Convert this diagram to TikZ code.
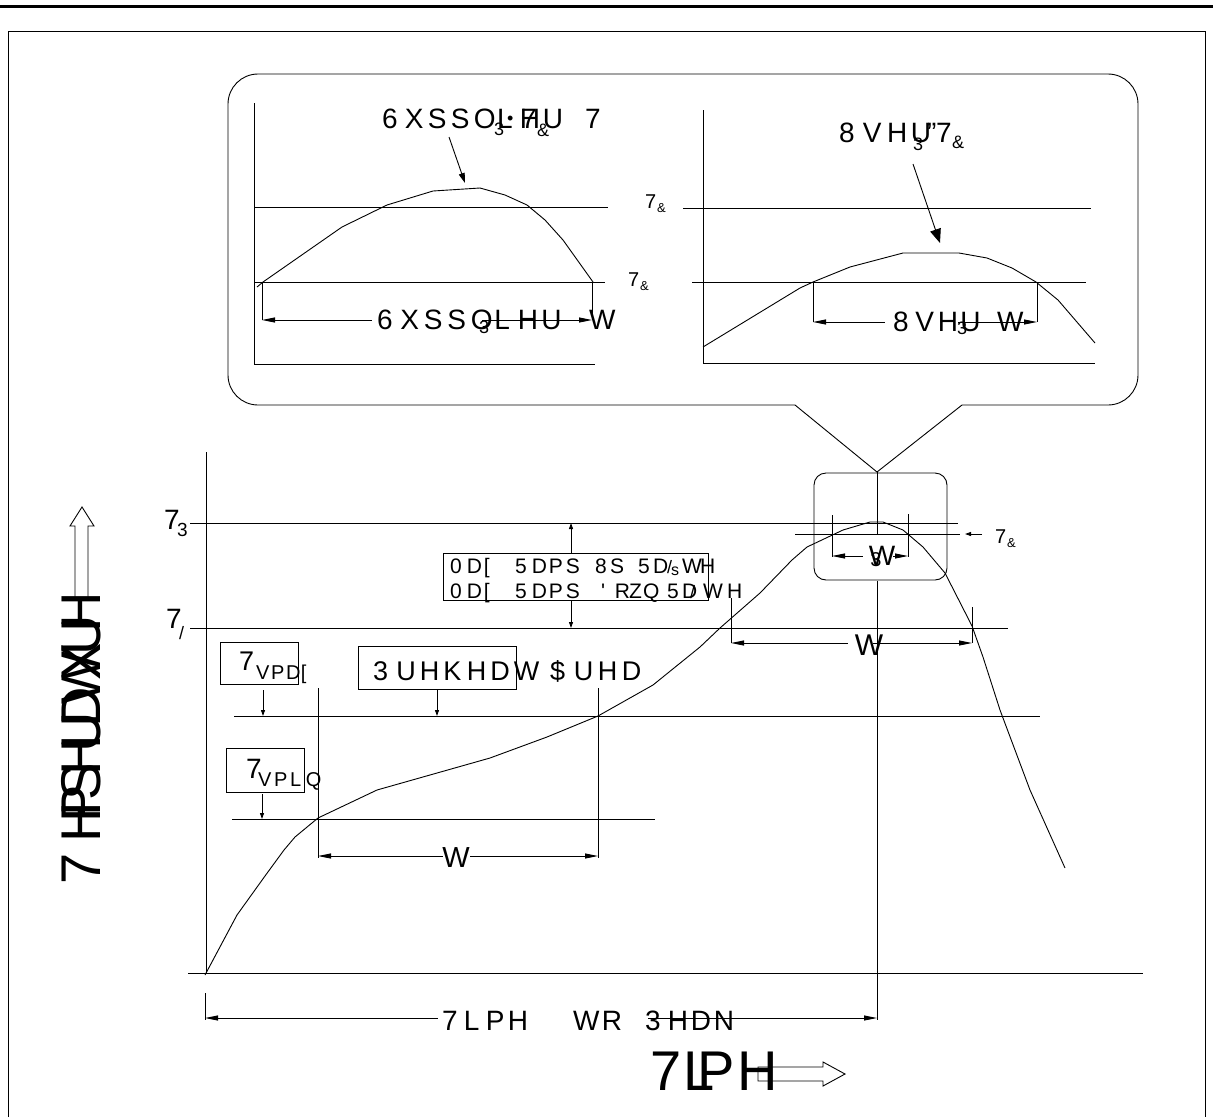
\documentclass[tikz,border=0pt]{standalone}
\usepackage{fontspec}
\setmainfont{Liberation Sans}
\usetikzlibrary{arrows.meta}
\newlength\pitchlen
\def\spcloop#1{\ifx#1\relax\else\makebox[\pitchlen][l]{#1}\expandafter\spcloop\fi}
\newcommand\T[3]{{\fontsize{#1}{#1}\selectfont\setlength\pitchlen{#2pt}\spcloop#3\relax}}
\newcommand\F[2]{{\fontsize{#1}{#1}\selectfont#2}}
\begin{document}
\begin{tikzpicture}[x=1pt,y=-1pt,line width=0.9pt,
  every node/.style={inner sep=0pt,outer sep=0pt},
  tx/.style={anchor=base west},
  dimL/.style={{Triangle[length=13pt,width=5pt]}-},
  dimR/.style={-{Triangle[length=13pt,width=5pt]}},
  sm/.style={-{Triangle[length=6pt,width=4pt]}}]
\useasboundingbox (0,0) rectangle (1213,1117);
% page frame
\draw[line width=3pt] (0,6.5) -- (1213,6.5);
\draw (8,1117) -- (8,31) -- (1205,31) -- (1205,1117);
% callout
\draw[rounded corners=30] (795,405) -- (228,405) -- (228,74) -- (1138,74) -- (1138,405) -- (962,405);
\draw (795,405) -- (877,472) -- (962,405);
% ---- left inset
\draw (254,103) -- (254,364) -- (595,364);
\draw (254,207) -- (608,207);
\draw (254,282) -- (605,282);
\draw (257,287) -- (263,282) -- (342,227) -- (387,205) -- (433,191) -- (480,188) -- (505,195) -- (527,205) -- (545,220) -- (563,240) -- (593,282);
\draw (262,282) -- (262,320);
\draw (592,282) -- (592,320);
\draw[dimL] (262,320) -- (372,320);
\draw[dimR] (482,320) -- (592,320);
\draw[-{Triangle[length=10pt,width=6pt]}] (449,137) -- (465,183);
\node[tx] (suptc) at (382,128) {\T{28}{23}{6XSSOLHU}};
\node[tx] at (585,128) {\F{28}{7}};
\node[tx] at (494,135) {\F{18}{3}};
\node[tx] at (507,124) {\F{18}{•}};
\node[tx] at (521,128) {\F{28}{7}};
\node[tx] at (537,136) {\F{18}{\&}};
\node[tx] (tc1) at (645,208) {\F{20}{7}};
\node[tx] at (657,212) {\F{13}{\&}};
\node[tx] (tc2) at (628,286) {\F{20}{7}};
\node[tx] at (640,290) {\F{13}{\&}};
\node[tx] (suptp) at (377,329) {\T{28}{23.5}{6XSSOLHU}};
\node[tx] at (589,329) {\F{28}{W}};
\node[tx] at (479,333) {\F{18}{3}};
% ---- right inset
\draw (703,110) -- (703,363) -- (1095,363);
\draw (683,208) -- (1091,208);
\draw (692,282) -- (1086,282);
\draw (703,347) -- (800,288) -- (813,282) -- (850,267) -- (903,253) -- (959,253) -- (987,258) -- (1012,268) -- (1036,282) -- (1058,300) -- (1095,343);
\draw (813,282) -- (813,322);
\draw (1037,282) -- (1037,322);
\draw[dimL] (813,322) -- (885,322);
\draw[dimR] (958,322) -- (1037,322);
\draw[-{Triangle[length=14pt,width=11pt]}] (913,164) -- (940,243);
\node[tx] (usertc) at (839,142) {\T{28}{24}{8VHU}};
\node[tx] at (913,150) {\F{18}{3}};
\node[tx] at (927,142) {\F{28}{"}};
\node[tx] at (936,142) {\F{28}{7}};
\node[tx] at (952,148) {\F{18}{\&}};
\node[tx] (usertp) at (893,331) {\T{28}{22.5}{8VHU}};
\node[tx] at (957,334) {\F{18}{3}};
\node[tx] at (997,331) {\F{28}{W}};
% ---- main chart axes and levels
\draw (206,452) -- (206,973);
\draw (188,973) -- (1143,973);
\draw (190,523) -- (958,523);
\draw (190,628) -- (1008,628);
\draw (234,716) -- (1040,716);
\draw (232,819) -- (655,819);
\draw (795,534) -- (960,534);
% profile
\draw (205,975) -- (237,915) -- (265,876) -- (284,850) -- (295,837) -- (318,818) -- (377,790) -- (490,758) -- (547,737) -- (598,716) -- (653,685) -- (700,647) -- (720,628) -- (760,593) -- (792,560) -- (807,547) -- (843,530) -- (870,522) -- (883,522) -- (903,530) -- (923,547) -- (945,573) -- (972,626) -- (983,657) -- (1000,710) -- (1030,790) -- (1065,868);
% labels on axis
\node[tx] (tp) at (164,529) {\F{28}{7}};
\node[tx] at (177,536) {\F{19}{3}};
\node[tx] (tl) at (166,628) {\F{28}{7}};
\node[tx] at (179,639) {\F{18}{/}};
% max ramp box
\draw (443,553) rectangle (708,600);
\draw[sm] (571,553) -- (571,523);
\draw[sm] (571,600) -- (571,628);
\node[tx] (mr1) at (450,573) {\T{21}{17}{0D[}};
\node[tx] at (515,573) {\T{21}{17}{5DPS}};
\node[tx] at (595,573) {\T{21}{15}{8S}};
\node[tx] at (638,573) {\T{21}{15}{5D}};
\node[tx] at (667,573) {\F{18}{/}};
\node[tx] at (671,575) {\F{16}{s}};
\node[tx] at (682,573) {\T{21}{18}{WH}};
\node[tx] (mr2) at (450,598) {\T{21}{17}{0D[}};
\node[tx] at (515,598) {\T{21}{17}{5DPS}};
\node[tx] at (601,598) {\T{21}{14}{\textquotesingle RZQ}};
\node[tx] at (667,598) {\T{21}{15}{5D}};
\node[tx] at (690,598) {\F{18}{/}};
\node[tx] at (703,598) {\T{21}{24}{WH}};
% Ts max
\draw (220,642) rectangle (298,684);
\node[tx] (tsmax) at (239,670) {\F{27}{7}};
\node[tx] at (256,679) {\T{20}{15}{VPD[}};
\draw[sm] (263,690) -- (263,716);
% preheat
\draw (358,646) rectangle (516,689);
\node[tx] (pre) at (373,680) {\T{27}{23.5}{3UHKHDW}};
\node[tx] at (550,680) {\T{27}{24}{\$UHD}};
\draw[sm] (437,690) -- (437,716);
% Ts min
\draw (226,748) rectangle (304,792);
\node[tx] (tsmin) at (246,778) {\F{28}{7}};
\node[tx] at (258,786) {\T{20}{16}{VPLQ}};
\draw[sm] (262,794) -- (262,819);
% preheat time
\draw (318,688) -- (318,858);
\draw (598,688) -- (598,858);
\draw[dimL] (318,856) -- (443,856);
\draw[dimR] (470,856) -- (598,856);
\node (t1) at (456,858) {\F{29}{W}};
% time above liquidus
\draw (731,598) -- (731,643);
\draw (972,607) -- (972,643);
\draw[dimL] (731,643) -- (848,643);
\draw[dimR] (873,643) -- (972,643);
\node (t2) at (869,645) {\F{30}{W}};
% zoom box
\draw[rounded corners=12] (814,473) rectangle (947,580);
\draw (877,472) -- (877,534);
\draw (877,581) -- (877,1020);
\draw (832,515) -- (832,557);
\draw (908,514) -- (908,557);
\draw[dimL] (832,556) -- (863,556);
\draw[dimR] (893,556) -- (908,556);
\node (t3) at (882,556) {\F{28}{W}};
\node at (876,560) {\F{20}{3}};
\draw[sm] (982,534) -- (965,534);
\node[tx] (tc3) at (995,543) {\F{20}{7}};
\node[tx] at (1007,547) {\F{13}{\&}};
% time to peak
\draw (205,993) -- (205,1020);
\draw[dimL] (205,1018) -- (438,1018);
\draw[dimR] (648,1018) -- (877,1018);
\node[tx] (ttp) at (442,1030) {\T{28}{22}{7LPH}};
\node[tx] at (573,1030) {\T{28}{29}{WR}};
\node[tx] at (645,1030) {\T{28}{23}{3HDN}};
% big axis labels
\node[tx] (timelbl) at (650,1090) {\F{56}{7}};
\node[tx] at (683,1090) {\F{56}{L}};
\node[tx] at (697,1090) {\F{56}{P}};
\node[tx] at (737,1090) {\F{56}{H}};
\draw (758,1067) -- (823,1067) -- (823,1062) -- (845,1074) -- (823,1086) -- (823,1081) -- (758,1081) -- cycle;
\node[tx,rotate=90] (templbl) at (100,884) {\F{56}{7}};
\node[tx,rotate=90] at (100,842) {\T{56}{20}{HP}};
\node[tx,rotate=90] at (100,800) {\T{56}{24}{SHUDWXUH}};
\draw (75,600) -- (75,526) -- (70,526) -- (82,507) -- (94,526) -- (88,526) -- (88,600);
\end{tikzpicture}
\end{document}
